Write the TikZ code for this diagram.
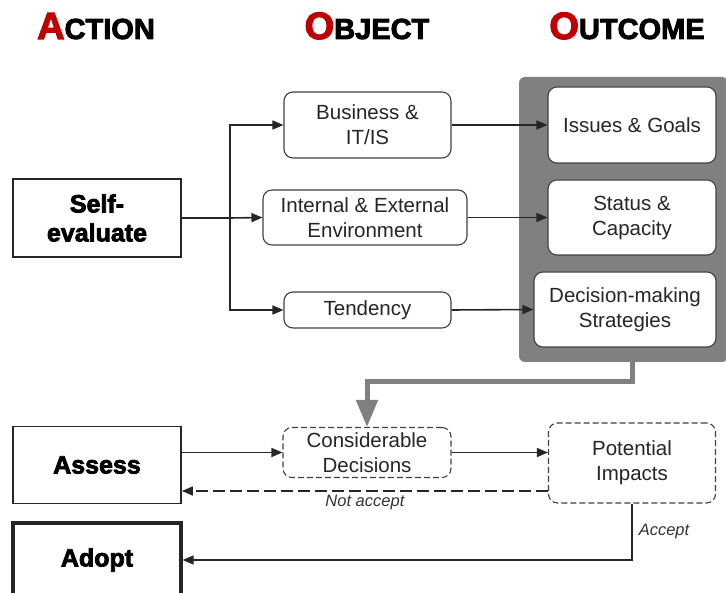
\documentclass[tikz,border=0pt]{standalone}
\usepackage{fontspec}
\setmainfont{Liberation Sans}
\newfontfamily\blackfont[FakeBold=3]{Liberation Sans Bold}
\usetikzlibrary{arrows.meta}
\definecolor{darkred}{HTML}{C00000}
\definecolor{panelgray}{HTML}{808080}
\definecolor{edgegray}{HTML}{404040}

\begin{document}
\begin{tikzpicture}[x=1pt,y=-1pt,
		heading/.style={anchor=base, inner sep=0pt, font=\blackfont\fontsize{29}{29}\selectfont},
		action/.style={draw=black!85, line width=1.8pt, minimum width=168pt, minimum height=77pt, inner sep=0pt, align=center, font=\blackfont\fontsize{25}{29}\selectfont},
		object/.style={draw=edgegray, rounded corners=9pt, line width=1.1pt, fill=white, inner sep=0pt, align=center, text=black!85, font=\fontsize{20.5}{25}\selectfont},
		option/.style={object, dashed, dash pattern=on 6pt off 3pt},
		arr/.style={-{Triangle[length=11pt,width=9pt]}, line width=1.6pt, black!85},
		note/.style={font=\itshape\fontsize{16.5}{18}\selectfont, text=black!80}]
		\useasboundingbox (0,0) rectangle (726,593);
		% headings
		\node[heading] (hact) at (96,39) {\textcolor{darkred}{\fontsize{38}{38}\selectfont A}CTION};
		\node[heading] (hobj) at (367,39) {\textcolor{darkred}{\fontsize{38}{38}\selectfont O}BJECT};
		\node[heading] (hout) at (627,39) {\textcolor{darkred}{\fontsize{38}{38}\selectfont O}UTCOME};
		% outcome panel
		\node[fill=panelgray, rounded corners=6pt, minimum width=209pt, minimum height=285pt, inner sep=0pt] (panel) at (623.5,219.5) {};
		% top row
		\node[action, minimum height=78pt] (self) at (97,218) {Self-\\evaluate};
		\node[object, minimum width=167pt, minimum height=66pt] (business) at (367.5,125) {Business \&\\IT/IS};
		\node[object, minimum width=204pt, minimum height=55pt] (internal) at (365,217.5) {Internal \& External\\Environment};
		\node[object, minimum width=167pt, minimum height=36pt] (tendency) at (367.5,310) {Tendency};
		\node[object, minimum width=168pt, minimum height=76pt] (issues) at (632,125) {Issues \& Goals};
		\node[object, minimum width=168pt, minimum height=75pt] (status) at (632,217.5) {Status \&\\Capacity};
		\node[object, minimum width=182pt, minimum height=75pt] (decision) at (625,309.5) {Decision-making\\Strategies};
		% bottom rows
		\node[action] (assess) at (97,465) {Assess};
		\node[option, minimum width=168pt, minimum height=50pt] (consider) at (367,452.5) {Considerable\\Decisions};
		\node[option, minimum width=167pt, minimum height=80pt] (impacts) at (632,463) {Potential\\Impacts};
		\node[action, line width=3.2pt, minimum height=74pt] (adopt) at (97,560) {Adopt};
		
		\coordinate (split) at (230,218);
		\draw[line width=1.6pt, black!85] (self.east) -- (split);
		\draw[arr] (split) |- (business.west);
		\draw[arr] (split) -- (internal.west);
		\draw[arr] (split) |- (tendency.west);
		\draw[arr] (business.east) -- (issues.west);
		\draw[arr] (internal.east) -- (status.west);
		\draw[arr] (tendency.east) -- (decision.west);
		
		\draw[panelgray, line width=5pt, -{Triangle[length=27pt,width=21pt]}] (panel.south -| issues) -- ++(0,19) -| (consider.north);
		\draw[arr] (assess.east |- consider.west) -- (consider.west);
		\draw[arr] (consider.east) -- (consider.east -| impacts.west);
		\draw[arr, dashed, dash pattern=on 12pt off 5pt] ([yshift=-28pt]impacts.west) -- ([yshift=-28pt]impacts.west -| assess.east)
		node[note, midway, below, inner sep=3pt] {Not accept};
		\draw[arr] (impacts.south) |- (adopt.east)
		node[note, pos=0.25, right, inner sep=6pt] {Accept};
		
\end{tikzpicture}
\end{document}
